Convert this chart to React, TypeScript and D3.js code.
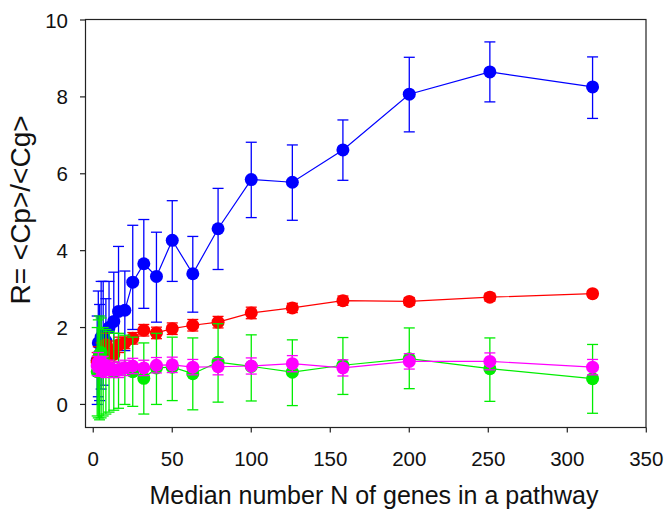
import React from "react";
import * as d3 from "d3";

const xs = [2.5, 3.2, 4, 5, 6.3, 8, 10, 13, 16, 20, 25, 32, 40, 50, 63, 79, 100, 126, 158, 200, 251, 316];

const blueY = [1.15, 1.6, 1.3, 1.75, 1.8, 1.65, 2.0, 2.16, 2.42, 2.45, 3.18, 3.66, 3.33, 4.27, 3.4, 4.57, 5.85, 5.78, 6.62, 8.07, 8.65, 8.26];
const blueHi = [2.3, 2.95, 2.6, 3.2, 3.2, 2.75, 3.2, 3.44, 4.11, 3.47, 4.66, 4.81, 4.48, 5.3, 4.37, 5.62, 6.82, 6.75, 7.4, 9.03, 9.43, 9.04];
const blueLo = [0.0, 0.2, 0.1, 0.4, 0.5, 0.8, 0.9, 1.0, 0.8, 1.4, 1.95, 2.5, 2.14, 3.2, 2.4, 3.51, 4.86, 4.79, 5.83, 7.09, 7.87, 7.44];

const redY = [1.1, 1.2, 1.05, 1.3, 1.35, 1.55, 1.4, 1.3, 1.55, 1.6, 1.72, 1.93, 1.86, 1.97, 2.06, 2.14, 2.38, 2.51, 2.70, 2.68, 2.79, 2.88];
const redErr = [0.25, 0.3, 0.25, 0.3, 0.3, 0.3, 0.25, 0.2, 0.2, 0.15, 0.15, 0.15, 0.15, 0.15, 0.15, 0.15, 0.15, 0.12, 0.12, 0.1, 0.1, 0.08];

const greenY = [0.85, 1.0, 1.3, 1.35, 1.1, 0.95, 0.9, 0.85, 0.9, 0.95, 0.85, 0.68, 0.95, 0.97, 0.8, 1.1, 0.99, 0.84, 1.02, 1.19, 0.93, 0.67];
const greenHi = [2.0, 2.2, 2.3, 2.25, 2.0, 1.95, 1.9, 1.85, 1.85, 1.8, 1.75, 1.6, 1.85, 1.75, 1.73, 2.1, 1.81, 1.68, 1.74, 1.99, 1.73, 1.56];
const greenLo = [-0.3, -0.35, -0.4, -0.35, -0.3, -0.25, -0.2, -0.15, -0.1, 0.0, -0.05, -0.25, 0.0, 0.1, -0.14, 0.06, 0.09, -0.03, 0.26, 0.41, 0.08, -0.23];

const magY = [1.0, 1.1, 0.95, 1.0, 1.05, 0.9, 0.95, 0.9, 0.9, 0.95, 1.0, 0.95, 1.02, 1.03, 0.97, 0.98, 1.0, 1.06, 0.95, 1.12, 1.12, 0.97];
const magErr = [0.25, 0.25, 0.22, 0.22, 0.2, 0.2, 0.2, 0.2, 0.2, 0.2, 0.2, 0.2, 0.2, 0.2, 0.2, 0.21, 0.21, 0.21, 0.21, 0.2, 0.22, 0.2];

const xTicks = [0, 50, 100, 150, 200, 250, 300, 350];
const yTicks = [0, 2, 4, 6, 8, 10];

const FONT = "'Liberation Sans', Arial, Helvetica, sans-serif";

const M = { left: 85.5, top: 19.5, right: 646, bottom: 427.5 };

export default function App() {
  const x = d3.scaleLinear().domain([-4.9, 350]).range([M.left, M.right + 0.3]);
  const y = d3.scaleLinear().domain([-0.6, 10]).range([M.bottom, 20]);

  const series = [
    { color: "#0000ff", ys: blueY, hi: blueHi, lo: blueLo },
    { color: "#ff0000", ys: redY, hi: redY.map((v, i) => v + redErr[i]), lo: redY.map((v, i) => v - redErr[i]) },
    { color: "#00ee00", ys: greenY, hi: greenHi, lo: greenLo },
    { color: "#ff00ff", ys: magY, hi: magY.map((v, i) => v + magErr[i]), lo: magY.map((v, i) => v - magErr[i]) },
  ];

  const line = d3.line<number>().x((_, i) => x(xs[i])).y((d) => y(d));
  const cap = 5.5;

  return (
    <svg width={666} height={516} style={{ display: "block", position: "absolute", left: 0, top: 0 }}>
      <rect x={M.left} y={M.top} width={M.right - M.left} height={M.bottom - M.top} fill="white" stroke="#222" strokeWidth={1.2} />
      {series.map((s, si) => (
        <g key={si}>
          {s.ys.map((v, i) => (
            <g key={i} stroke={s.color} strokeWidth={1.3}>
              <line x1={x(xs[i])} x2={x(xs[i])} y1={y(s.hi[i])} y2={y(s.lo[i])} />
              <line x1={x(xs[i]) - cap} x2={x(xs[i]) + cap} y1={y(s.hi[i])} y2={y(s.hi[i])} />
              <line x1={x(xs[i]) - cap} x2={x(xs[i]) + cap} y1={y(s.lo[i])} y2={y(s.lo[i])} />
            </g>
          ))}
          <path d={line(s.ys) || ""} fill="none" stroke={s.color} strokeWidth={1.2} />
          {s.ys.map((v, i) => (
            <circle key={i} cx={x(xs[i])} cy={y(v)} r={6.5} fill={s.color} />
          ))}
        </g>
      ))}
      {xTicks.map((t) => (
        <g key={t}>
          <line x1={x(t)} x2={x(t)} y1={M.bottom} y2={M.bottom + 5} stroke="#222" strokeWidth={1.2} />
          <text x={x(t)} y={466} textAnchor="middle" fontFamily={FONT} fontSize={20.5} fill="#111">{t}</text>
        </g>
      ))}
      {yTicks.map((t) => (
        <g key={t}>
          <line x1={M.left - 5.5} x2={M.left} y1={y(t)} y2={y(t)} stroke="#222" strokeWidth={1.2} />
          <text x={68} y={y(t) + 7.5} textAnchor="end" fontFamily={FONT} fontSize={20.5} fill="#111">{t}</text>
        </g>
      ))}
      <text x={374} y={504} textAnchor="middle" fontFamily={FONT} fontSize={25} fill="#111">Median number N of genes in a pathway</text>
      <text transform="translate(30,210) rotate(-90)" textAnchor="middle" fontFamily={FONT} fontSize={28} fill="#111">R= &lt;Cp&gt;/&lt;Cg&gt;</text>
    </svg>
  );
}
